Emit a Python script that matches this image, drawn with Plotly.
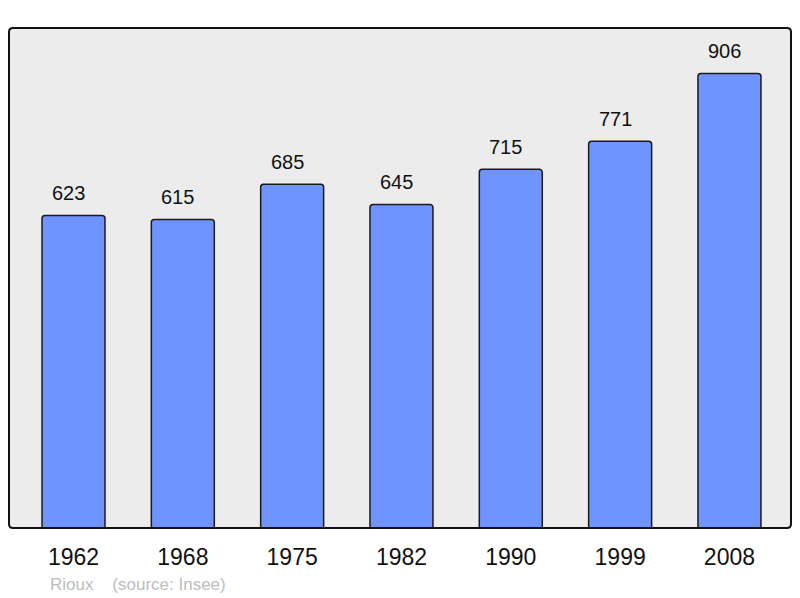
import plotly.graph_objects as go

years = ["1962", "1968", "1975", "1982", "1990", "1999", "2008"]
population = [623, 615, 685, 645, 715, 771, 906]
source_label = "Rioux    (source: Insee)"

# page body has an 8px margin: compensate so the plot area lands at x 9..791, y 28..528
OFF = 8
W, H = 800 - OFF, 598 - OFF
ml, mr, mt, mb = 9 - OFF, 9, 28 - OFF, 70

fig = go.Figure()
fig.add_trace(go.Bar(
    x=years, y=population, width=0.576,
    marker=dict(color="#7094ff", line=dict(color="#1a1a1a", width=1.5), cornerradius=3),
    hoverinfo="x+y",
))

for i, v in enumerate(population):
    fig.add_annotation(x=i, y=v, text=str(v), showarrow=False, yanchor="bottom",
                       yshift=9, xshift=-5,
                       font=dict(family="Liberation Sans, Arial", size=20, color="#111"))

pw, ph = W - ml - mr, H - mt - mb
fig.add_annotation(xref="paper", yref="paper", x=(48 - 9) / pw, y=-(584 - 528) / ph,
                   xanchor="left", yanchor="middle", text=source_label, showarrow=False,
                   font=dict(family="Liberation Sans, Arial", size=17, color="#bdbdbd"))

# rounded border around plot area (paper coords)
rx, ry = 4 / pw, 4 / ph
path = (f"M {rx},0 L {1-rx},0 Q 1,0 1,{ry} L 1,{1-ry} Q 1,1 {1-rx},1 "
        f"L {rx},1 Q 0,1 0,{1-ry} L 0,{ry} Q 0,0 {rx},0 Z")
fig.add_shape(type="path", xref="paper", yref="paper", path=path,
              line=dict(color="#111111", width=2), layer="above")

fig.update_layout(
    width=W, height=H,
    margin=dict(l=ml, r=mr, t=mt, b=mb),
    paper_bgcolor="white", plot_bgcolor="#ececec",
    showlegend=False,
    font=dict(family="Liberation Sans, Arial", color="#111"),
    xaxis=dict(type="category", range=[-0.59, 6.563], showgrid=False, zeroline=False,
               ticks="", tickfont=dict(size=23, color="#111"), ticklabelstandoff=13,
               showline=False),
    yaxis=dict(range=[0, 996.6], showgrid=False, zeroline=False, showticklabels=False,
               ticks="", showline=False),
)

fig.write_html("out.html")
